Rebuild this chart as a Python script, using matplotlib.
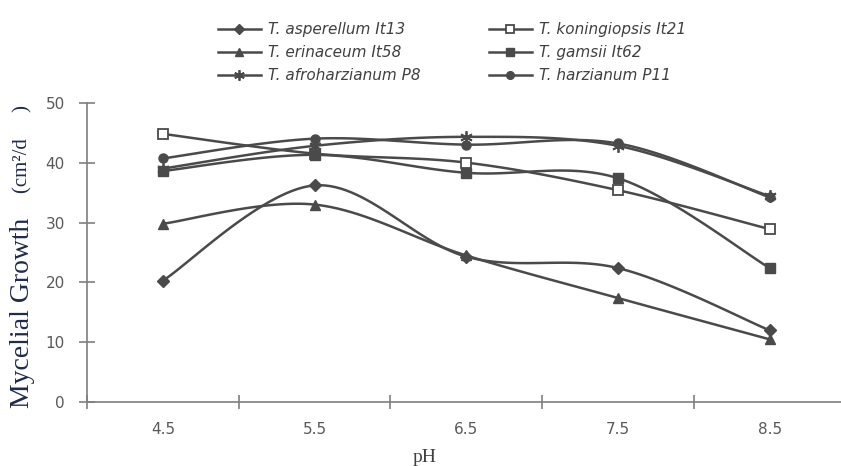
import numpy as np
import matplotlib
matplotlib.use("Agg")
import matplotlib.pyplot as plt
from matplotlib.lines import Line2D

ph_labels = ["4.5", "5.5", "6.5", "7.5", "8.5"]
series_names = ["T. asperellum It13", "T. koningiopsis It21", "T. erinaceum It58",
                "T. gamsii It62", "T. afroharzianum P8", "T. harzianum P11"]
asperellum = [20.3, 36.2, 24.3, 22.4, 12.0]
koningiopsis = [44.8, 41.5, 40.0, 35.4, 28.9]
erinaceum = [29.8, 33.0, 24.5, 17.4, 10.5]
gamsii = [38.6, 41.3, 38.3, 37.4, 22.4]
afroharzianum = [39.0, 42.8, 44.3, 42.8, 34.4]
harzianum = [40.7, 44.0, 43.0, 43.2, 34.2]
yticks = [0, 10, 20, 30, 40, 50]

LC = "#4a4a4a"
styles = [
    dict(marker="D", ms=6.5, mfc=LC, mec=LC),
    dict(marker="s", ms=6.5, mfc="white", mec=LC, mew=1.3),
    dict(marker="^", ms=7, mfc=LC, mec=LC),
    dict(marker="s", ms=6.5, mfc=LC, mec=LC),
    dict(marker=(6, 2, 0), ms=9, mfc=LC, mec=LC, mew=1.3),
    dict(marker="o", ms=6.5, mfc=LC, mec=LC),
]
data = [asperellum, koningiopsis, erinaceum, gamsii, afroharzianum, harzianum]


def smooth(x, y, n=30):
    x = np.asarray(x, float)
    y = np.asarray(y, float)
    px = np.concatenate([[x[0]], x, [x[-1]]])
    py = np.concatenate([[y[0]], y, [y[-1]]])
    xs, ys = [], []
    t = np.linspace(0, 1, n)
    for i in range(len(x) - 1):
        p0 = np.array([px[i + 1], py[i + 1]])
        p3 = np.array([px[i + 2], py[i + 2]])
        c1 = p0 + (np.array([px[i + 2], py[i + 2]]) - np.array([px[i], py[i]])) / 6
        c2 = p3 - (np.array([px[i + 3], py[i + 3]]) - np.array([px[i + 1], py[i + 1]])) / 6
        b = ((1 - t) ** 3)[:, None] * p0 + (3 * (1 - t) ** 2 * t)[:, None] * c1 + \
            (3 * (1 - t) * t ** 2)[:, None] * c2 + (t ** 3)[:, None] * p3
        xs.append(b[:, 0])
        ys.append(b[:, 1])
    return np.concatenate(xs), np.concatenate(ys)


fig = plt.figure(figsize=(8.41, 4.66), dpi=100)
ax = fig.add_axes([87 / 841, 1 - 402.3 / 466, (845.6 - 87) / 841, (402.3 - 102.7) / 466])

xpos = np.arange(len(ph_labels))
handles = []
for vals, st, name in zip(data, styles, series_names):
    sx, sy = smooth(xpos, vals)
    ax.plot(sx, sy, color=LC, lw=1.8, zorder=2)
    ax.plot(xpos, vals, ls="none", zorder=3, **st)
    lst = dict(st)
    lst["ms"] = st["ms"] * 0.85
    handles.append(Line2D([0], [0], color=LC, lw=1.8, label=name, **lst))

ax.set_xlim(-0.5, 4.5)
ax.set_ylim(0, 50)
ax.set_yticks(yticks)
ax.set_yticklabels([str(v) for v in yticks])
ax.set_xticks(np.arange(-0.5, 4.6, 1.0))
ax.set_xticklabels([])
ax.set_xticks(xpos, minor=True)
ax.set_xticklabels(ph_labels, minor=True)
ax.tick_params(axis="x", which="minor", length=0, pad=14, labelsize=11, labelcolor="#595959")
ax.tick_params(axis="x", which="major", direction="inout", length=10, color="#7f7f7f", width=1.2)
ax.tick_params(axis="y", direction="inout", length=12, color="#7f7f7f", width=1.2,
               labelsize=11, labelcolor="#595959", pad=10)
for lab in ax.get_xticklabels(minor=True) + ax.get_yticklabels():
    lab.set_family("DejaVu Sans")
for s in ["top", "right"]:
    ax.spines[s].set_visible(False)
for s in ["left", "bottom"]:
    ax.spines[s].set_color("#7f7f7f")
    ax.spines[s].set_linewidth(1.2)
ax.set_facecolor("none")

order = [0, 2, 4, 1, 3, 5]
leg = fig.legend([handles[i] for i in order], [series_names[i] for i in order],
                 ncol=2, loc="upper left", bbox_to_anchor=(218 / 841, 1 - 22 / 466),
                 frameon=False, handlelength=2.8, handletextpad=0.45, columnspacing=4.5,
                 labelspacing=0.53, borderaxespad=0, borderpad=0,
                 prop=dict(family="DejaVu Sans", style="oblique", size=11))
for t in leg.get_texts():
    t.set_color("#404040")

fig.text(23 / 841, 1 - 313 / 466, "Mycelial Growth", rotation=90, ha="center", va="center",
         family="Liberation Serif", size=20, color="#1f2b4a")
fig.text(23 / 841, 1 - 149 / 466, "(cm²/d     )", rotation=90, ha="center", va="center",
         family="Liberation Serif", size=15, color="#1f2b4a")
fig.text(425 / 841, 1 - 458 / 466, "pH", ha="center", va="center",
         family="Liberation Serif", size=14, color="#404040")

fig.savefig("out.png", dpi=100)
